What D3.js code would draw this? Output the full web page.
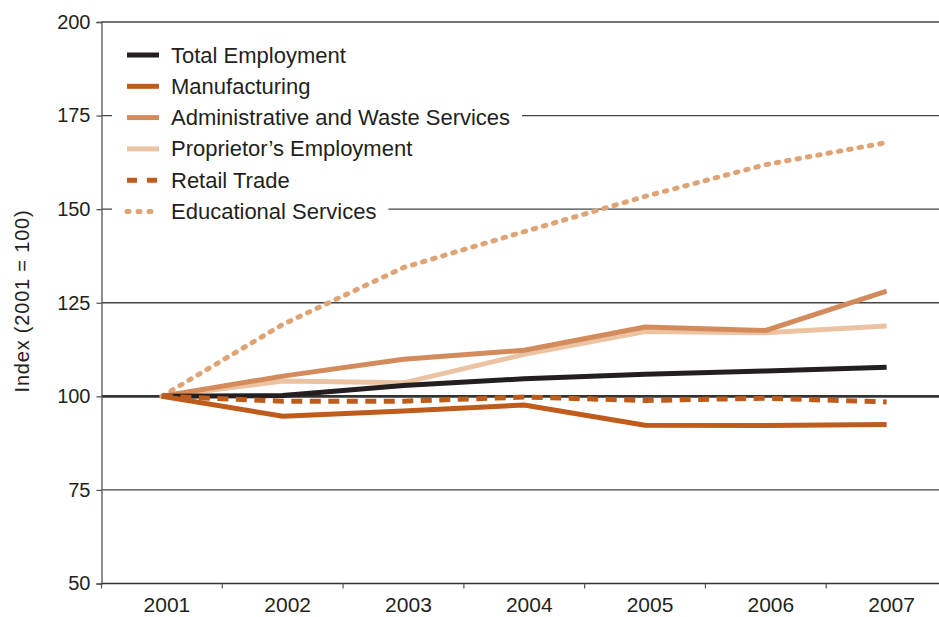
<!DOCTYPE html>
<html lang="en">
<head>
<meta charset="utf-8">
<title>Employment index</title>
<script src="https://cdn.jsdelivr.net/npm/d3@7"></script>
<style>
  body { margin: 0; background: #fff; }
  svg { display: block; font-family: "Liberation Sans", Arial, sans-serif; }
</style>
</head>
<body>
<script>
// data
var years = ["2001", "2002", "2003", "2004", "2005", "2006", "2007"];
var yTicks = [50, 75, 100, 125, 150, 175, 200];

var totalEmployment = [100, 100.2, 102.9, 104.7, 105.9, 106.8, 107.8];
var manufacturing   = [100, 94.7, 96.1, 97.7, 92.3, 92.2, 92.5];
var adminWaste      = [100, 105.4, 109.9, 112.3, 118.5, 117.6, 128.1];
var proprietors     = [100, 104.1, 103.6, 111.2, 117.3, 117.0, 118.8];
var retailTrade     = [100, 98.7, 98.7, 99.8, 98.9, 99.5, 98.5];
var educational     = [100, 119.2, 134.4, 144.0, 153.4, 161.9, 167.8];

var seriesNames = ["Total Employment", "Manufacturing", "Administrative and Waste Services",
                   "Proprietor\u2019s Employment", "Retail Trade", "Educational Services"];
var seriesValues = [totalEmployment, manufacturing, adminWaste, proprietors, retailTrade, educational];

var colors = ["#231f20", "#bf5b1b", "#d48b5c", "#ebc3a2", "#bf5b1b", "#dea476"];
var dashes = [null, null, null, null, "11,7.5", "2.5,8"];
var legendDashes = [null, null, null, null, "10,10", "2,9"];

var w = 939, h = 617;
var padLeft = 101.5, padRight = 947, padTop = 22, padBottom = 583.5;

var svg = d3.select("body").append("svg")
    .attr("width", w)
    .attr("height", h);

var x = d3.scaleBand().domain(years).range([padLeft, padRight]).padding(0);
var y = d3.scaleLinear().domain([50, 200]).range([padBottom, padTop]);

// gridlines
svg.append("g").selectAll("line")
  .data(yTicks.filter(function(d) { return d > 50; }))
  .enter().append("line")
    .attr("x1", padLeft).attr("x2", w)
    .attr("y1", function(d) { return y(d); })
    .attr("y2", function(d) { return y(d); })
    .attr("stroke", function(d) { return d === 100 ? "#333" : "#444"; })
    .attr("stroke-width", function(d) { return d === 100 ? 2.6 : 1.4; });

// Y axis
var yAxis = d3.axisLeft(y).tickValues(yTicks).tickSize(5).tickPadding(6);
var gy = svg.append("g")
    .attr("transform", "translate(" + padLeft + ",0)")
    .call(yAxis);
gy.select(".domain").attr("stroke", "#555").attr("stroke-width", 1.3);
gy.selectAll(".tick line").attr("stroke", "#555").attr("stroke-width", 1.3);
gy.selectAll(".tick text")
    .attr("font-size", "20px")
    .attr("fill", "#231f20")
    .attr("font-family", "Liberation Sans, Arial, sans-serif");

// X axis: labels at band centres, ticks at band edges
var xAxis = d3.axisBottom(x).tickSize(0).tickPadding(14);
var gx = svg.append("g")
    .attr("transform", "translate(0," + padBottom + ")")
    .call(xAxis);
gx.select(".domain").remove();
gx.selectAll(".tick text")
    .attr("font-size", "21px")
    .attr("fill", "#231f20")
    .attr("dx", 5)
    .attr("font-family", "Liberation Sans, Arial, sans-serif");

svg.append("line")
    .attr("x1", padLeft).attr("x2", w)
    .attr("y1", padBottom).attr("y2", padBottom)
    .attr("stroke", "#333").attr("stroke-width", 1.4);

svg.append("g").selectAll("line")
  .data(years)
  .enter().append("line")
    .attr("x1", function(d) { return x(d); })
    .attr("x2", function(d) { return x(d); })
    .attr("y1", padBottom).attr("y2", padBottom + 5)
    .attr("stroke", "#555").attr("stroke-width", 1.2);

// Y axis title
svg.append("text")
    .attr("transform", "translate(29," + 301 + ") rotate(-90)")
    .attr("text-anchor", "middle")
    .attr("font-size", "20px")
    .attr("letter-spacing", "0.8px")
    .attr("fill", "#231f20")
    .text("Index (2001 = 100)");

// legend (white background hides gridlines behind text)
var legend = svg.append("g");
var legendY = function(i) { return 55 + i * 31.3; };

// series lines
var line = d3.line()
    .x(function(d, i) { return x(years[i]) + x.bandwidth() / 2; })
    .y(function(d) { return y(d); });

var items = legend.selectAll("g")
  .data(seriesNames)
  .enter().append("g")
    .attr("transform", function(d, i) { return "translate(0," + legendY(i) + ")"; });

items.append("rect").attr("class", "bg")
    .attr("x", 112).attr("y", -15).attr("height", 30)
    .attr("fill", "#fff");

items.append("line")
    .attr("x1", 127).attr("x2", function(d, i) { return i === 4 ? 157 : 159; })
    .attr("y1", 0).attr("y2", 0)
    .attr("stroke", function(d, i) { return colors[i]; })
    .attr("stroke-width", 5)
    .attr("stroke-linecap", function(d, i) { return i === 5 ? "round" : "butt"; })
    .attr("stroke-dasharray", function(d, i) { return legendDashes[i]; });

items.append("text")
    .attr("x", 171).attr("y", 7.5)
    .attr("font-size", "22px")
    .attr("fill", "#231f20")
    .text(function(d) { return d; });

items.each(function() {
  var g = d3.select(this);
  var bb = g.select("text").node().getBBox();
  g.select("rect.bg").attr("width", bb.x + bb.width + 12 - 112);
});

var order = [5, 3, 2, 0, 4, 1];
svg.append("g").selectAll("path")
  .data(order)
  .enter().append("path")
    .attr("d", function(k) { return line(seriesValues[k]); })
    .attr("fill", "none")
    .attr("stroke", function(k) { return colors[k]; })
    .attr("stroke-width", 5)
    .attr("stroke-linejoin", "miter")
    .attr("stroke-linecap", function(k) { return k === 5 ? "round" : "butt"; })
    .attr("stroke-dasharray", function(k) { return dashes[k]; });
</script>
</body>
</html>
